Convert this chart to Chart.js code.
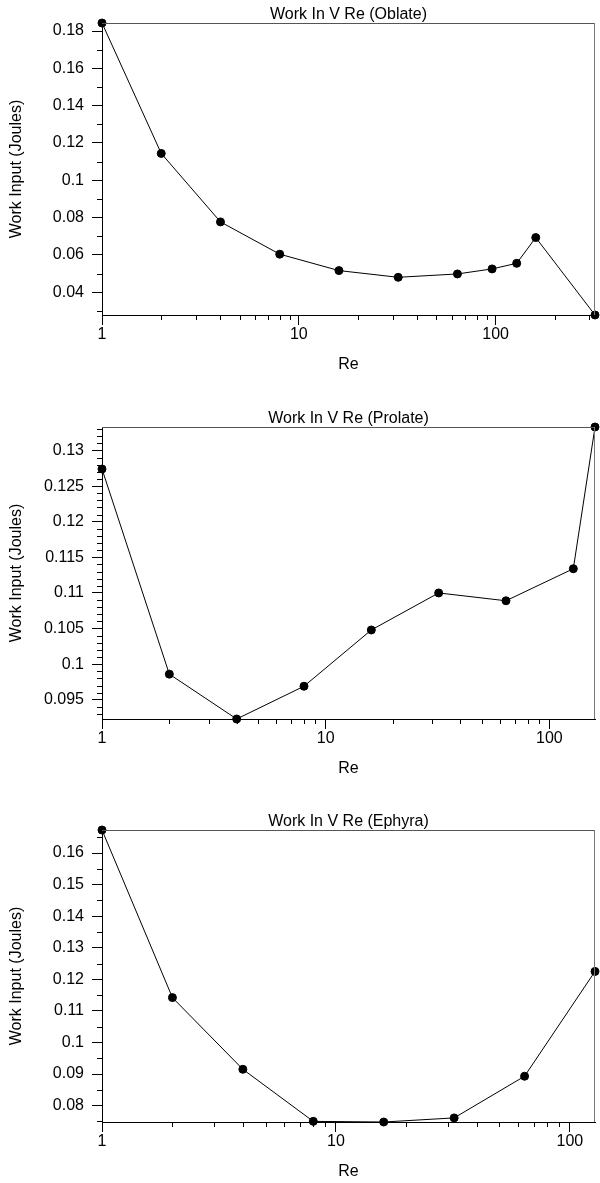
<!DOCTYPE html>
<html><head><meta charset="utf-8">
<script src="https://cdn.jsdelivr.net/npm/chart.js@4/dist/chart.umd.min.js"></script>
<style>
html,body{margin:0;padding:0;background:#fff;overflow:hidden;width:600px;height:1183px;position:relative;}
.wrap{position:absolute;left:0;width:600px;height:404px;}
</style></head><body>
<div class="wrap" style="top:0px"><canvas id="c1"></canvas></div>
<div class="wrap" style="top:404px"><canvas id="c2"></canvas></div>
<div class="wrap" style="top:807px"><canvas id="c3"></canvas></div>
<script>
// ---- data ----
const reOblate   = [1, 2, 4, 8, 16, 32, 64, 96, 128, 160, 320];
const workOblate = [0.1843, 0.1144, 0.0777, 0.0604, 0.0516, 0.0480, 0.0498, 0.0525, 0.0555, 0.0693, 0.0278];

const reProlate   = [1, 2, 4, 8, 16, 32, 64, 128, 160];
const workProlate = [0.1274, 0.0986, 0.0923, 0.0969, 0.1048, 0.1100, 0.1089, 0.1134, 0.1333];

const reEphyra   = [1, 2, 4, 8, 16, 32, 64, 128];
const workEphyra = [0.1673, 0.1142, 0.0915, 0.0750, 0.0748, 0.0761, 0.0893, 0.1225];

// ---- tick labels ----
const xTickLabels = [1, 10, 100];
const xMinorTicks = [2, 3, 4, 5, 6, 7, 8, 9, 20, 30, 40, 50, 60, 70, 80, 90, 200, 300];
const yTicksOblate  = [0.04, 0.06, 0.08, 0.1, 0.12, 0.14, 0.16, 0.18];
const yTicksProlate = [0.095, 0.1, 0.105, 0.11, 0.115, 0.12, 0.125, 0.13];
const yTicksEphyra  = [0.08, 0.09, 0.1, 0.11, 0.12, 0.13, 0.14, 0.15, 0.16];
const yMinorStepOblate = 0.01, yMinorStepProlate = 0.001, yMinorStepEphyra = 0.005;

const titles = ['Work In V Re (Oblate)', 'Work In V Re (Prolate)', 'Work In V Re (Ephyra)'];

Chart.defaults.font.family = '"Liberation Sans", Arial, Helvetica, sans-serif';
Chart.defaults.font.size = 16;
Chart.defaults.color = '#000';

const framePlugin = {
  id: 'frame',
  afterDraw(chart, args, opts) {
    const ctx = chart.ctx, a = chart.chartArea;
    const xs = chart.scales.x, ys = chart.scales.y;
    ctx.save();
    ctx.lineWidth = 1;
    // top and right frame
    ctx.strokeStyle = '#555';
    ctx.beginPath();
    ctx.moveTo(a.left, a.top + 0.5); ctx.lineTo(a.right, a.top + 0.5);
    ctx.stroke();
    ctx.strokeStyle = '#777';
    ctx.beginPath();
    ctx.moveTo(a.right - 0.5, a.top); ctx.lineTo(a.right - 0.5, a.bottom);
    ctx.stroke();
    // minor ticks
    ctx.strokeStyle = '#000';
    ctx.beginPath();
    xMinorTicks.forEach(v => {
      if (v > xs.min && v < xs.max) {
        const px = Math.round(xs.getPixelForValue(v)) + 0.5;
        ctx.moveTo(px, a.bottom); ctx.lineTo(px, a.bottom + 5);
      }
    });
    const step = opts.minorStep;
    const majors = opts.majors;
    for (let k = Math.ceil(ys.min / step - 1e-9); k * step <= ys.max + 1e-12; k++) {
      const v = k * step;
      if (majors.some(m => Math.abs(m - v) < step / 10)) continue;
      const py = Math.round(ys.getPixelForValue(v)) + 0.5;
      ctx.moveTo(a.left - 5, py); ctx.lineTo(a.left, py);
    }
    ctx.stroke();
    ctx.restore();
  }
};

function makeChart(id, title, xs, ys, yMajors, minorStep) {
  const pts = xs.map((x, i) => ({x: x, y: ys[i]}));
  return new Chart(document.getElementById(id), {
    type: 'line',
    data: { datasets: [{
      data: pts,
      borderColor: '#000', borderWidth: 1,
      pointBackgroundColor: '#000', pointBorderColor: '#000',
      pointRadius: 4, pointBorderWidth: 1, pointHoverRadius: 4,
      tension: 0, clip: false, fill: false
    }]},
    options: {
      responsive: true, maintainAspectRatio: false, animation: false, devicePixelRatio: 1,
      layout: { padding: { left: 0, right: 3, top: 0, bottom: 0 } },
      events: [],
      plugins: {
        legend: { display: false },
        tooltip: { enabled: false },
        title: {
          display: true, text: title, fullSize: false, color: '#000',
          font: { size: 16, weight: 'normal', lineHeight: 1 },
          padding: { top: 6.5, bottom: 0.5 }
        },
        frame: { minorStep: minorStep, majors: yMajors }
      },
      scales: {
        x: {
          type: 'logarithmic',
          min: Math.min(...xs), max: Math.max(...xs),
          afterFit(s) { s.height = 89; },
          afterBuildTicks(s) { s.ticks = xTickLabels.map(v => ({value: v, major: true})); },
          ticks: { padding: 0, color: '#000', font: { size: 16 }, autoSkip: false, maxRotation: 0,
                   callback: v => String(v) },
          grid: { display: true, drawOnChartArea: false, drawTicks: true, tickLength: 10, color: '#000', lineWidth: 1 },
          border: { display: true, color: '#000', width: 1 },
          title: { display: true, text: 'Re', color: '#000', font: { size: 16, lineHeight: 1 },
                   padding: { top: 0, bottom: 31 } }
        },
        y: {
          type: 'linear',
          min: Math.min(...ys), max: Math.max(...ys),
          afterFit(s) { s.width = 102; },
          afterBuildTicks(s) { s.ticks = yMajors.map(v => ({value: v})); },
          ticks: { padding: 8, color: '#000', font: { size: 16 }, autoSkip: false,
                   callback: v => String(v) },
          grid: { display: true, drawOnChartArea: false, drawTicks: true, tickLength: 10, color: '#000', lineWidth: 1 },
          border: { display: true, color: '#000', width: 1 },
          title: { display: true, text: 'Work Input (Joules)', color: '#000', font: { size: 16, lineHeight: 1 },
                   padding: { top: 9, bottom: 0 } }
        }
      }
    },
    plugins: [framePlugin]
  });
}

makeChart('c1', titles[0], reOblate, workOblate, yTicksOblate, yMinorStepOblate);
makeChart('c2', titles[1], reProlate, workProlate, yTicksProlate, yMinorStepProlate);
makeChart('c3', titles[2], reEphyra, workEphyra, yTicksEphyra, yMinorStepEphyra);
</script>
</body></html>
